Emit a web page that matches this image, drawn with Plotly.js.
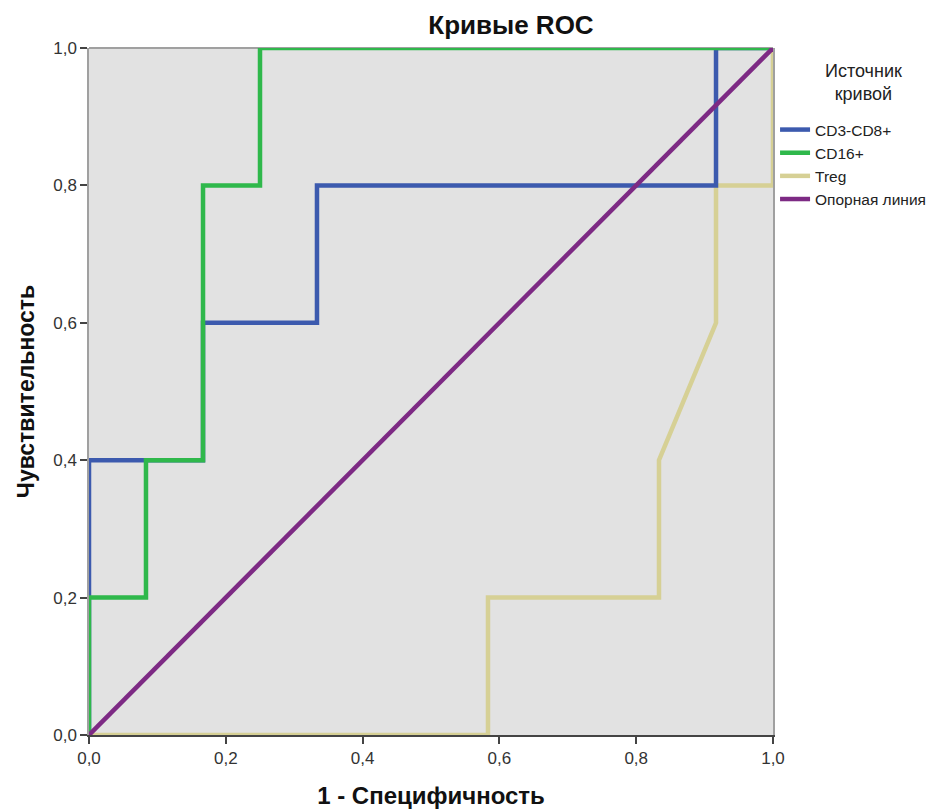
<!DOCTYPE html>
<html>
<head>
<meta charset="utf-8">
<script src="https://cdn.plot.ly/plotly-3.0.1.min.js"></script>
<style>html,body{margin:0;padding:0;background:#fff;}#chart{width:948px;height:809px;}</style>
</head>
<body>
<div id="chart"></div>
<script>
// Data
const cd38_x = [0, 0, 0.1667, 0.1667, 0.3333, 0.3333, 0.9167, 0.9167, 1];
const cd38_y = [0, 0.4, 0.4, 0.6, 0.6, 0.8, 0.8, 1, 1];
const cd16_x = [0, 0, 0.0833, 0.0833, 0.1667, 0.1667, 0.25, 0.25, 1];
const cd16_y = [0, 0.2, 0.2, 0.4, 0.4, 0.8, 0.8, 1, 1];
const treg_x = [0, 0.5833, 0.5833, 0.8333, 0.8333, 0.9167, 0.9167, 1, 1];
const treg_y = [0, 0, 0.2, 0.2, 0.4, 0.6, 0.8, 0.8, 1];
const ref_x = [0, 1];
const ref_y = [0, 1];
const names = ['CD3-CD8+', 'CD16+', 'Treg', 'Опорная линия'];
const legendTitle = 'Источник<br>кривой';
const colors = ['#3c5aae', '#2fb84b', '#d6d095', '#7d2a84'];
const tickVals = [0, 0.2, 0.4, 0.6, 0.8, 1.0];

const font = 'Liberation Sans, Arial, sans-serif';
const mk = (x, y, i, rank) => ({
  x: x, y: y, name: names[i], type: 'scatter', mode: 'lines',
  line: {color: colors[i], width: 4.5}, cliponaxis: false, legendrank: rank
});
const data = [
  mk(treg_x, treg_y, 2, 3),
  mk(cd38_x, cd38_y, 0, 1),
  mk(cd16_x, cd16_y, 1, 2),
  mk(ref_x, ref_y, 3, 4)
];
const layout = {
  width: 948, height: 809,
  margin: {l: 89, r: 175, t: 48, b: 74, autoexpand: false},
  paper_bgcolor: '#ffffff', plot_bgcolor: '#e2e2e2',
  separators: ',.',
  font: {family: font, size: 16, color: '#333'},
  title: {text: 'Кривые ROC', font: {family: font, size: 26, color: '#111', weight: 'bold'},
          x: 0.539, xref: 'container', xanchor: 'center', y: 0.969, yref: 'container', yanchor: 'middle'},
  xaxis: {
    range: [0, 1], tickvals: tickVals, tickformat: '.1f',
    showgrid: false, zeroline: false, showline: true, linecolor: '#444', linewidth: 1.5,
    ticks: 'outside', ticklen: 7, tickwidth: 2, tickcolor: '#444',
    tickfont: {family: font, size: 17, color: '#333'},
    title: {text: '1 - Специфичность', font: {family: font, size: 24, color: '#111', weight: 'bold'}, standoff: 22}
  },
  yaxis: {
    range: [0, 1], tickvals: tickVals, tickformat: '.1f',
    showgrid: false, zeroline: false, showline: true, linecolor: '#a0a0a0', linewidth: 1.5, mirror: true,
    ticks: 'outside', ticklen: 7, tickwidth: 2, tickcolor: '#444',
    tickfont: {family: font, size: 17, color: '#333'},
    title: {text: 'Чувствительность', font: {family: font, size: 23, color: '#111', weight: 'bold'}, standoff: 12}
  },
  shapes: [
    {type: 'line', xref: 'paper', yref: 'paper', x0: 0, x1: 1, y0: 1, y1: 1, line: {color: '#a0a0a0', width: 2}, layer: 'below'}
  ],
  annotations: [
    {text: legendTitle, xref: 'paper', yref: 'paper', x: (863 - 89) / 684, y: 1 - (82 - 48) / 687,
     xanchor: 'center', yanchor: 'middle', showarrow: false, align: 'center',
     font: {family: font, size: 18, color: '#222'}}
  ],
  showlegend: true,
  legend: {
    x: 1.003, xanchor: 'left', y: 1 - (113 - 48) / 687, yanchor: 'top',
    bgcolor: 'rgba(0,0,0,0)', tracegroupgap: 0, itemwidth: 30,
    font: {family: font, size: 15.5, color: '#222'}
  }
};
Plotly.newPlot('chart', data, layout, {displayModeBar: false});
</script>
</body>
</html>
